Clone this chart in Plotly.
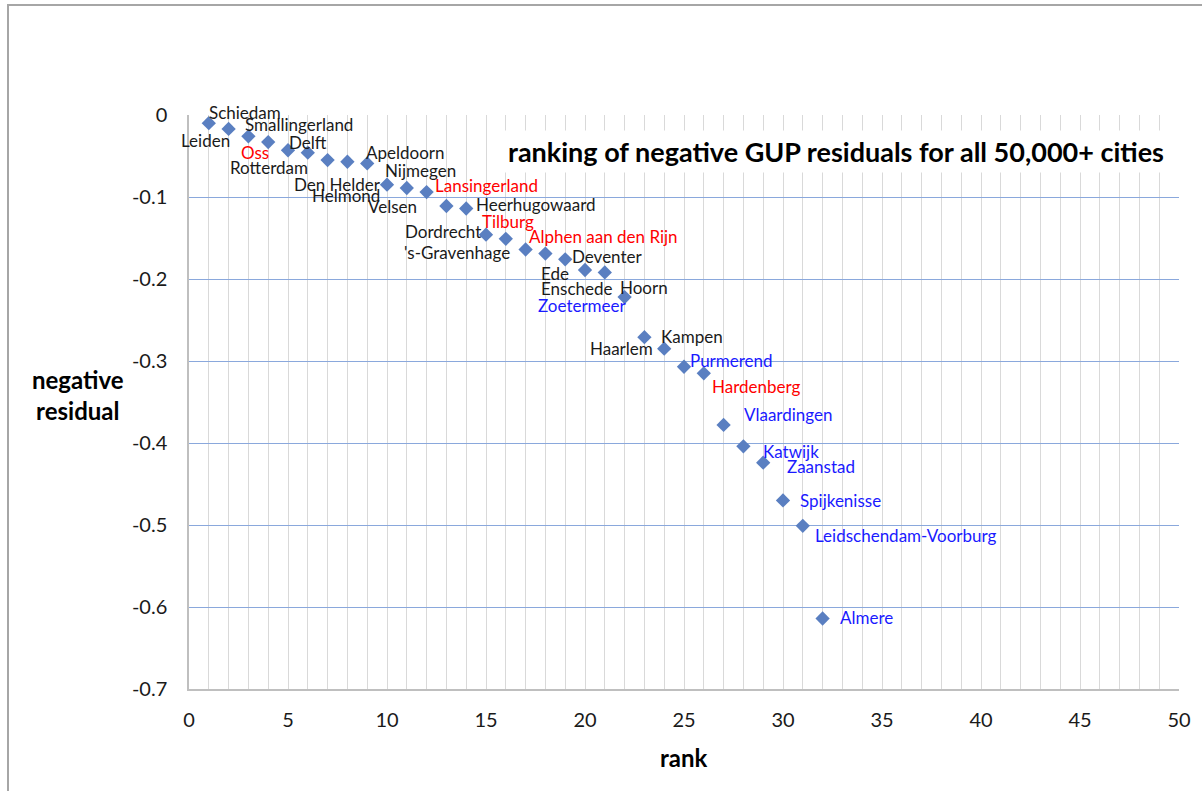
import plotly.graph_objects as go

# ---- data ----
ranks = list(range(1, 33))
residuals = [-0.010, -0.017, -0.026, -0.033, -0.043, -0.046, -0.055, -0.057, -0.059, -0.085,
             -0.089, -0.094, -0.111, -0.114, -0.146, -0.151, -0.164, -0.169, -0.176, -0.189,
             -0.192, -0.222, -0.271, -0.285, -0.307, -0.315, -0.378, -0.404, -0.424, -0.470,
             -0.501, -0.614]
cities = ["Leiden", "Schiedam", "Smallingerland", "Oss", "Delft", "Rotterdam", "Den Helder",
          "Helmond", "Apeldoorn", "Nijmegen", "Velsen", "Lansingerland", "Heerhugowaard",
          "Dordrecht", "Tilburg", "'s-Gravenhage", "Alphen aan den Rijn", "Deventer", "Ede",
          "Enschede", "Zoetermeer", "Hoorn", "Kampen", "Haarlem", "Purmerend", "Hardenberg",
          "Vlaardingen", "Katwijk", "Zaanstad", "Spijkenisse", "Leidschendam-Voorburg", "Almere"]
groups = ["k", "k", "k", "r", "k", "k", "k", "k", "k", "k", "k", "r", "k", "k", "r", "k", "r",
          "k", "k", "k", "b", "k", "k", "k", "b", "r", "b", "b", "b", "b", "b", "b"]
x_ticks = [0, 5, 10, 15, 20, 25, 30, 35, 40, 45, 50]
y_ticks = [0, -0.1, -0.2, -0.3, -0.4, -0.5, -0.6, -0.7]
y_ticktext = ["0", "-0.1", "-0.2", "-0.3", "-0.4", "-0.5", "-0.6", "-0.7"]

# ---- label placement (pixel offsets from each marker) ----
label_dx = [-3, 16, 51, -13, 20, -39, 10, -1, 37.5, 33.5, -14, 59.5, 90, -23, 21.5, -48.5,
            77.5, 62, -10.5, -8, -22.5, 19, 47.5, -43, 47, 53, 64, 47.5, 57.5, 57, 103, 44]
label_dy = [17, -16, -12, 10, -8, 15, 24, 34, -11, -14, 19, -6.5, -1.5, 23, -13.5, 13.5,
            -12.5, 3, 14, 19, 33.5, -9.5, -0.5, 0, -6.5, 13, -10.5, 5, 3.5, 0.5, 9.5, -1]
group_color = {"k": "#1a1a1a", "r": "#ff0000", "b": "#1a1aff"}

FONT = "Lato"
W, H = 1202, 791
L, R, T, B = 189, 23, 115, 102

fig = go.Figure()
fig.add_trace(go.Scatter(
    x=ranks, y=residuals, mode="markers",
    marker=dict(symbol="diamond", size=11, color="#5a7fc1", line=dict(width=0)),
    cliponaxis=False, hoverinfo="x+y", showlegend=False))

annotations = []
for r, v, name, g, dx, dy in zip(ranks, residuals, cities, groups, label_dx, label_dy):
    annotations.append(dict(x=r, y=v, xref="x", yref="y", text=name, showarrow=False,
                            xshift=dx, yshift=-dy, xanchor="center", yanchor="middle",
                            font=dict(family=FONT, size=17, color=group_color[g])))

pw = W - L - R
ph = H - T - B
def px(xp):
    return (xp - L) / pw
def py(yp):
    return (H - B - yp) / ph

annotations.append(dict(x=px(836), y=py(151), xref="paper", yref="paper",
                        text="<b>ranking of negative GUP residuals for all 50,000+ cities</b>",
                        showarrow=False, xanchor="center", yanchor="middle",
                        bgcolor="white", borderpad=4,
                        font=dict(family=FONT, size=27, color="#000000")))
annotations.append(dict(x=px(78), y=py(395), xref="paper", yref="paper",
                        text="<b>negative<br>residual</b>", showarrow=False,
                        xanchor="center", yanchor="middle",
                        font=dict(family=FONT, size=24, color="#000000")))
annotations.append(dict(x=px(684), y=py(757), xref="paper", yref="paper",
                        text="<b>rank</b>", showarrow=False,
                        xanchor="center", yanchor="middle",
                        font=dict(family=FONT, size=24, color="#000000")))

shapes = [dict(type="rect", xref="paper", yref="paper",
               x0=px(8), y0=py(900), x1=px(1300), y1=py(5),
               line=dict(color="#a6a6a6", width=2), fillcolor="rgba(0,0,0,0)", layer="below")]

fig.update_layout(
    width=W, height=H,
    margin=dict(l=L, r=R, t=T, b=B, autoexpand=False),
    paper_bgcolor="white", plot_bgcolor="white",
    annotations=annotations, shapes=shapes,
    xaxis=dict(range=[0, 50], tickvals=x_ticks, ticktext=[str(t) for t in x_ticks],
               showgrid=True, gridcolor="#d9d9d9", gridwidth=1,
               minor=dict(dtick=1, showgrid=True, gridcolor="#d9d9d9", gridwidth=1),
               zeroline=False, showline=True, linecolor="#bfbfbf", linewidth=1.5,
               ticks="", ticklabelstandoff=12,
               tickfont=dict(family=FONT, size=20, color="#1a1a1a")),
    yaxis=dict(range=[-0.7, 0], tickvals=y_ticks, ticktext=y_ticktext,
               showgrid=True, gridcolor="#8aa8dc", gridwidth=1,
               zeroline=False, showline=True, linecolor="#bfbfbf", linewidth=1.5,
               ticks="", ticklabelstandoff=16,
               tickfont=dict(family=FONT, size=20, color="#1a1a1a")),
)

fig.write_html("out.html", config={"displayModeBar": False},
               post_script="document.body.style.margin='0';document.body.style.overflow='hidden';")
